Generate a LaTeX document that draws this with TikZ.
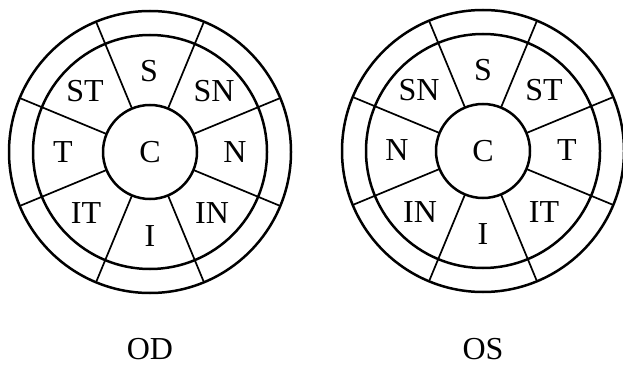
\documentclass[tikz,border=0pt]{standalone}
\usepackage{fontspec}
\setmainfont{Liberation Serif}
\begin{document}
\begin{tikzpicture}[x=1pt,y=-1pt,
  ring/.style={line width=2.5pt},
  divider/.style={line width=1.7pt},
  lab/.style={font=\fontsize{32}{32}\selectfont, inner sep=0pt, anchor=center}]
\useasboundingbox (0,0) rectangle (623,366);
% eye centres
\coordinate (Lc) at (150,152);
\coordinate (Rc) at (483,151);
\foreach \nm in {L,R}{
  \draw[ring] (\nm c) circle[radius=141pt];
  \draw[ring] (\nm c) circle[radius=117pt];
  \draw[ring] (\nm c) circle[radius=47pt];
  \foreach \a in {22.5,67.5,...,337.5}
    \draw[divider] ([shift={(\a:47pt)}]\nm c) -- ([shift={(\a:141pt)}]\nm c);
}
% labels OD
\node[lab] (L-C)  at ([shift={(0,0)}]Lc) {C};
\node[lab] (L-S)  at ([shift={(-1,-81)}]Lc) {S};
\node[lab] (L-ST) at ([shift={(-65,-61)}]Lc) {ST};
\node[lab] (L-SN) at ([shift={(64,-61)}]Lc) {SN};
\node[lab] (L-T)  at ([shift={(-87,0)}]Lc) {T};
\node[lab] (L-N)  at ([shift={(85,0)}]Lc) {N};
\node[lab] (L-IT) at ([shift={(-64,61)}]Lc) {IT};
\node[lab] (L-IN) at ([shift={(62,61)}]Lc) {IN};
\node[lab] (L-I)  at ([shift={(0,84)}]Lc) {I};
% labels OS
\node[lab] (R-C)  at ([shift={(0,0)}]Rc) {C};
\node[lab] (R-S)  at ([shift={(0,-81)}]Rc) {S};
\node[lab] (R-SN) at ([shift={(-64,-61)}]Rc) {SN};
\node[lab] (R-ST) at ([shift={(61,-61)}]Rc) {ST};
\node[lab] (R-N)  at ([shift={(-86,-1)}]Rc) {N};
\node[lab] (R-T)  at ([shift={(84,-1)}]Rc) {T};
\node[lab] (R-IN) at ([shift={(-63,61)}]Rc) {IN};
\node[lab] (R-IT) at ([shift={(61,61)}]Rc) {IT};
\node[lab] (R-I)  at ([shift={(0,83)}]Rc) {I};
% eye captions
\node[lab] (OD) at (150,349) {OD};
\node[lab] (OS) at (483,349) {OS};
\end{tikzpicture}
\end{document}
